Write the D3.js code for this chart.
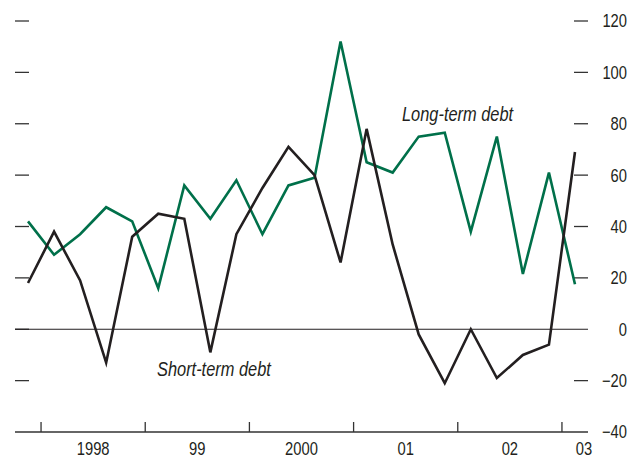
<!DOCTYPE html>
<html>
<head>
<meta charset="utf-8">
<script src="https://cdn.jsdelivr.net/npm/d3@7"></script>
<style>
  body { margin: 0; background: #fff; }
  svg { display: block; font-family: "Liberation Sans", Arial, sans-serif; }
</style>
</head>
<body>
<div class="chart"></div>
<script>
// quarterly, 1997Q4 .. 2003Q1
const quarters = ["1997Q4","1998Q1","1998Q2","1998Q3","1998Q4","1999Q1","1999Q2","1999Q3","1999Q4",
  "2000Q1","2000Q2","2000Q3","2000Q4","2001Q1","2001Q2","2001Q3","2001Q4",
  "2002Q1","2002Q2","2002Q3","2002Q4","2003Q1"]
const shortTerm = [18, 38, 19, -13, 36, 45, 43, -9, 37, 55, 71, 60, 26, 78, 33, -2, -21, 0, -19, -10, -6, 69]
const longTerm = [42, 29, 37, 47.5, 42, 16, 56, 43, 58, 37, 56, 59, 112, 65, 61, 75, 76.5, 38, 75, 21.5, 61, 17.5]
const yTicks = [-40, -20, 0, 20, 40, 60, 80, 100, 120]
const yearLabels = ["1998", "99", "2000", "01", "02", "03"]

const width = 638, height = 457
const narrow = 0.82 // condensed look, no narrow font installed

const svg = d3.select(".chart").append("svg")
  .attr("width", width)
  .attr("height", height)

const x = d3.scaleLinear().domain([-0.5, quarters.length - 0.5]).range([15, 588])
const y = d3.scaleLinear().domain([-40, 120]).range([432, 21])

function place(sel, fx, fy) {
  sel.attr("transform", (d, i) => `translate(${fx(d, i)},${fy(d, i)}) scale(${narrow},1)`)
}

// left tick marks (no labels)
svg.append("g")
  .selectAll("line")
  .data(yTicks.filter(d => d > -40))
  .enter().append("line")
  .attr("x1", 15).attr("x2", 29)
  .attr("y1", d => y(d)).attr("y2", d => y(d))
  .attr("stroke", "#333").attr("stroke-width", 1.3)

// right axis
const right = svg.append("g")
right.selectAll("line")
  .data(yTicks.filter(d => d > -40 && d !== 0))
  .enter().append("line")
  .attr("x1", 574).attr("x2", 588)
  .attr("y1", d => y(d)).attr("y2", d => y(d))
  .attr("stroke", "#333").attr("stroke-width", 1.3)
right.selectAll("text")
  .data(yTicks)
  .enter().append("text")
  .call(place, () => 627, d => y(d))
  .attr("dy", "0.36em")
  .attr("text-anchor", "end")
  .attr("font-size", 18)
  .attr("fill", "#231f20")
  .text(d => d < 0 ? "\u2212" + Math.abs(d) : d)

// zero line
svg.append("line")
  .attr("x1", 15).attr("x2", 588)
  .attr("y1", y(0)).attr("y2", y(0))
  .attr("stroke", "#231f20").attr("stroke-width", 1)

// bottom axis
svg.append("line")
  .attr("x1", 15).attr("x2", 588)
  .attr("y1", y(-40)).attr("y2", y(-40))
  .attr("stroke", "#333").attr("stroke-width", 1.3)

// year boundaries (between Q4 and Q1)
const yearStarts = [0.5, 4.5, 8.5, 12.5, 16.5, 20.5]
svg.append("g").selectAll("line")
  .data(yearStarts)
  .enter().append("line")
  .attr("x1", d => x(d)).attr("x2", d => x(d))
  .attr("y1", y(-40)).attr("y2", y(-40) - 10)
  .attr("stroke", "#333").attr("stroke-width", 1.3)

svg.append("g").selectAll("text")
  .data(yearLabels)
  .enter().append("text")
  .call(place, (d, i) => i < yearLabels.length - 1 ? x(yearStarts[i] + 2) : x(21.5) - 4, () => 455)
  .attr("text-anchor", "middle")
  .attr("font-size", 18)
  .attr("fill", "#231f20")
  .text(d => d)

const line = d3.line().x((d, i) => x(i)).y(d => y(d))

svg.append("path")
  .datum(longTerm)
  .attr("d", line)
  .attr("fill", "none")
  .attr("stroke", "#00704a")
  .attr("stroke-width", 2.6)

svg.append("path")
  .datum(shortTerm)
  .attr("d", line)
  .attr("fill", "none")
  .attr("stroke", "#231f20")
  .attr("stroke-width", 2.6)

svg.append("text")
  .call(place, () => 402, () => 121)
  .attr("font-size", 20).attr("font-style", "italic")
  .attr("fill", "#231f20")
  .text("Long-term debt")

svg.append("text")
  .call(place, () => 157, () => 376)
  .attr("font-size", 20).attr("font-style", "italic")
  .attr("fill", "#231f20")
  .text("Short-term debt")
</script>
</body>
</html>
